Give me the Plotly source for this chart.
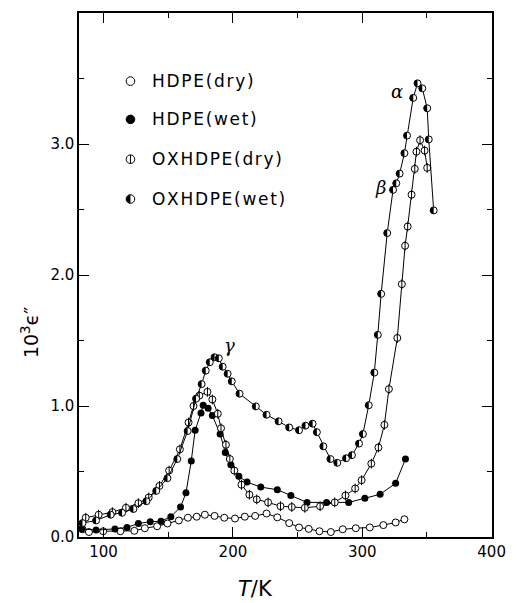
import plotly.graph_objects as go

# dielectric loss vs temperature
hdpe_dry_T = [83.7, 88.7, 99.7, 113.0, 123.8, 131.9, 141.4, 149.4, 158.2, 165.2,
              172.0, 178.3, 185.8, 193.3, 201.6, 209.2, 217.2, 226.0, 234.3, 243.5,
              251.1, 258.6, 266.9, 275.7, 284.9, 295.0, 305.8, 316.3, 325.8, 332.6]
hdpe_dry_e = [0.059, 0.038, 0.044, 0.044, 0.047, 0.067, 0.082, 0.103, 0.126, 0.147,
              0.155, 0.170, 0.161, 0.147, 0.141, 0.155, 0.161, 0.179, 0.150, 0.106,
              0.073, 0.062, 0.044, 0.038, 0.059, 0.067, 0.073, 0.091, 0.111, 0.135]

hdpe_wet_T = [83.0, 94.2, 108.8, 118.1, 126.9, 136.1, 144.4, 152.0, 159.5, 163.7,
              167.8, 170.8, 175.3, 177.0, 180.8, 184.1, 190.1, 194.1, 198.4, 204.6,
              210.9, 221.5, 234.3, 244.8, 257.3, 272.4, 289.5, 302.0, 313.8, 325.8, 333.4]
hdpe_wet_e = [0.062, 0.053, 0.062, 0.073, 0.103, 0.117, 0.120, 0.155, 0.229, 0.337,
              0.581, 0.815, 0.947, 1.006, 0.982, 0.927, 0.786, 0.645, 0.551, 0.463,
              0.419, 0.381, 0.361, 0.317, 0.264, 0.264, 0.264, 0.296, 0.326, 0.410, 0.595]

ox_dry_T = [86.2, 96.2, 106.8, 117.3, 126.9, 134.9, 143.2, 150.7, 159.0, 165.7,
            169.5, 174.0, 180.3, 184.1, 188.3, 190.8, 194.6, 197.6, 201.1, 206.6,
            212.7, 218.4, 227.2, 236.8, 245.5, 255.6, 267.4, 278.7, 287.0, 294.5,
            299.5, 307.0, 312.5, 317.1, 320.6, 327.1, 330.6, 333.1, 335.1, 338.1,
            340.6, 341.9, 344.7, 348.2, 350.2]
ox_dry_e = [0.147, 0.170, 0.190, 0.223, 0.258, 0.302, 0.390, 0.507, 0.669, 0.874,
            1.000, 1.079, 1.108, 1.050, 0.941, 0.830, 0.704, 0.595, 0.507, 0.399,
            0.323, 0.287, 0.264, 0.235, 0.229, 0.223, 0.235, 0.264, 0.317, 0.370,
            0.434, 0.560, 0.683, 0.856, 1.129, 1.519, 1.930, 2.223, 2.370, 2.613,
            2.810, 2.941, 3.029, 2.950, 2.818]

ox_wet_T = [83.7, 94.2, 105.5, 114.3, 123.1, 133.1, 140.7, 149.4, 157.0, 165.0,
            171.5, 175.8, 179.0, 182.1, 185.8, 189.1, 192.1, 195.9, 199.1, 205.1,
            217.7, 226.0, 235.3, 243.5, 251.1, 256.1, 261.6, 264.9, 269.9, 275.4,
            280.7, 287.5, 292.0, 297.5, 300.5, 305.0, 309.3, 312.0, 314.6, 319.3,
            323.8, 326.3, 328.9, 332.6, 334.6, 339.4, 342.7, 346.4, 350.2, 351.4, 355.2]
ox_wet_e = [0.106, 0.126, 0.170, 0.185, 0.214, 0.273, 0.352, 0.449, 0.595, 0.809,
            1.056, 1.167, 1.270, 1.334, 1.372, 1.364, 1.300, 1.246, 1.188, 1.094,
            0.997, 0.933, 0.883, 0.836, 0.815, 0.850, 0.865, 0.800, 0.692, 0.595,
            0.566, 0.601, 0.625, 0.713, 0.786, 1.006, 1.255, 1.543, 1.856, 2.320,
            2.650, 2.700, 2.774, 2.930, 3.064, 3.352, 3.463, 3.425, 3.273, 3.035, 2.493]

legend_names = ['HDPE(dry)', 'HDPE(wet)', 'OXHDPE(dry)', 'OXHDPE(wet)']
peak_labels = ['α', 'β', 'γ']
peak_T = [327, 314, 197.5]
peak_e = [3.40, 2.67, 1.46]
x_ticks = [100, 200, 300, 400]
y_ticks = [0, 1, 2, 3]

FONT = 'DejaVu Sans'
line = dict(color='black', width=1)
open_marker = dict(symbol='circle', size=7, color='white', line=dict(color='black', width=1))

fig = go.Figure()
fig.add_trace(go.Scatter(x=hdpe_dry_T, y=hdpe_dry_e, mode='lines+markers',
                         line=line, marker=open_marker))
fig.add_trace(go.Scatter(x=hdpe_wet_T, y=hdpe_wet_e, mode='lines+markers', line=line,
                         marker=dict(symbol='circle', size=7, color='black')))
fig.add_trace(go.Scatter(x=ox_dry_T, y=ox_dry_e, mode='lines+markers',
                         line=line, marker=open_marker))
# vertical bar through the open circles
fig.add_trace(go.Scatter(x=ox_dry_T, y=ox_dry_e, mode='markers',
                         marker=dict(symbol='line-ns', size=7, line=dict(color='black', width=1))))
fig.add_trace(go.Scatter(x=ox_wet_T, y=ox_wet_e, mode='lines+markers',
                         line=line, marker=open_marker))


def half_path(r):
    k = 0.5523 * r
    return (f'M 0,{-r} C {-k},{-r} {-r},{-k} {-r},0 '
            f'C {-r},{k} {-k},{r} 0,{r} Z')


# left half black for the wet OXHDPE points
for t, e in zip(ox_wet_T, ox_wet_e):
    fig.add_shape(type='path', xref='x', yref='y', xsizemode='pixel', ysizemode='pixel',
                  xanchor=t, yanchor=e, path=half_path(3.5),
                  fillcolor='black', line=dict(width=0))

# hand-made legend inside the plot
leg_x = 0.1246
leg_y = [0.870, 0.797, 0.721, 0.645]
R = 4.3
HAIR = '\u200a'
for i, (name, y) in enumerate(zip(legend_names, leg_y)):
    fig.add_shape(type='circle', xref='paper', yref='paper', xsizemode='pixel',
                  ysizemode='pixel', xanchor=leg_x, yanchor=y, x0=-R, x1=R, y0=-R, y1=R,
                  fillcolor='black' if i == 1 else 'white', line=dict(color='black', width=1))
    if i == 2:
        fig.add_shape(type='line', xref='paper', yref='paper', xsizemode='pixel',
                      ysizemode='pixel', xanchor=leg_x, yanchor=y, x0=0, x1=0, y0=-R, y1=R,
                      line=dict(color='black', width=1))
    if i == 3:
        fig.add_shape(type='path', xref='paper', yref='paper', xsizemode='pixel',
                      ysizemode='pixel', xanchor=leg_x, yanchor=y, path=half_path(R),
                      fillcolor='black', line=dict(width=0))
    fig.add_annotation(x=0.172, y=y, xref='paper', yref='paper', text=HAIR.join(name),
                       showarrow=False, xanchor='left', yanchor='middle',
                       font=dict(family=FONT, size=17, color='black'))

for lab, t, e in zip(peak_labels, peak_T, peak_e):
    fig.add_annotation(x=t, y=e, text=f'<i>{lab}</i>', showarrow=False,
                       xanchor='center', yanchor='middle',
                       font=dict(family='DejaVu Serif', size=18, color='black'))

# axis titles
fig.add_annotation(x=-0.12, y=0.39, xref='paper', yref='paper', textangle=-90,
                   xanchor='center', yanchor='middle',
                   text='10<sup>3</sup>ϵ″', showarrow=False,
                   font=dict(family=FONT, size=19, color='black'))
fig.add_annotation(x=0.428, y=-0.099, xref='paper', yref='paper',
                   xanchor='center', yanchor='middle',
                   text='<i>T</i>/K', showarrow=False,
                   font=dict(family=FONT, size=21, color='black'))

axis_common = dict(showgrid=False, zeroline=False, showline=True, linecolor='black',
                   linewidth=1.5, mirror='ticks', ticks='inside', ticklen=10,
                   tickcolor='black', tickwidth=1,
                   tickfont=dict(family=FONT, size=15, color='black'))

fig.update_layout(
    width=517, height=603,
    margin=dict(l=79, r=15, t=11, b=66),
    paper_bgcolor='white', plot_bgcolor='white',
    showlegend=False,
    xaxis=dict(range=[81, 400.3], tickvals=x_ticks,
               minor=dict(dtick=50, tick0=0, ticks='inside', ticklen=5, tickcolor='black'),
               **axis_common),
    yaxis=dict(range=[0, 4.0], tickvals=y_ticks, tickformat='.1f',
               minor=dict(dtick=0.5, tick0=0, ticks='inside', ticklen=5, tickcolor='black'),
               **axis_common),
)

# drop the default 8px body margin so the figure fills the window exactly
fig.write_html('out.html', config={'displayModeBar': False},
               post_script="document.body.style.margin='0';")
